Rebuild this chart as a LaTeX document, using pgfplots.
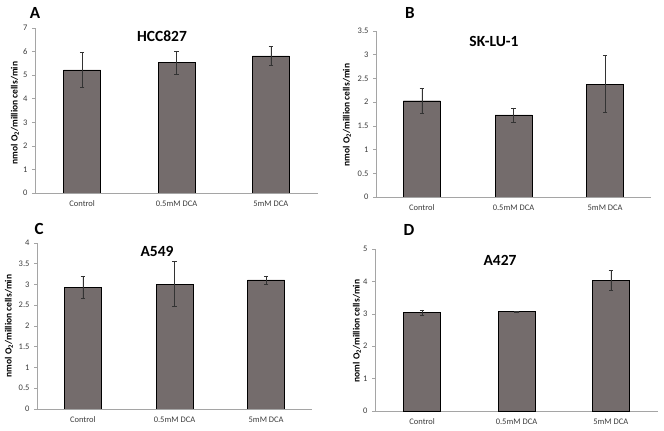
\documentclass[border=0pt]{standalone}
\usepackage{fontspec}
\setmainfont{Carlito}
\usepackage{pgfplots}
\pgfplotsset{compat=1.18}
\definecolor{barc}{RGB}{116,108,108}
\definecolor{axc}{RGB}{165,165,165}
\definecolor{txt}{RGB}{60,60,60}
\pgfplotsset{panel/.style={
  scale only axis,
  axis lines*=left,
  axis line style={axc, line width=0.6pt},
  xmin=-0.5, xmax=2.5, ymin=0,
  xtick={0,1,2},
  xticklabels={Control,0.5mM DCA,5mM DCA},
  major x tick style={draw=none},
  extra x ticks={0.5,1.5,2.5},
  extra x tick labels={},
  extra x tick style={major tick length=3pt, tick align=outside, tick style={axc}},
  tick align=outside,
  major tick length=3pt,
  tick style={axc, line width=0.6pt},
  ticklabel style={font=\fontsize{8.5}{10}\selectfont, text=txt},
  /pgf/number format/assume math mode=true,
  y tick label style={xshift=-1pt},
  x tick label style={yshift=-1pt},
  ybar, bar width=37pt,
  bar shift=0pt,
  cycle list={{fill=barc, draw=white!80!barc, line width=0.4pt}},
  error bars/y dir=both, error bars/y explicit,
  error bars/error bar style={black!80, line width=0.4pt},
  error bars/error mark options={rotate=90, black!80, mark size=2.2pt, line width=0.4pt},
}}
\begin{document}
\begin{tikzpicture}[x=1pt,y=1pt]
\useasboundingbox (0,0) rectangle (664,431);
% Panel A
\begin{axis}[panel, at={(35pt,238pt)}, anchor=south west, width=283pt, height=165pt,
  ymax=7, ytick={0,1,...,7}]
\addplot coordinates {(0,5.22) +- (0,0.74) (1,5.53) +- (0,0.47) (2,5.82) +- (0,0.39)};
\end{axis}
% Panel B
\begin{axis}[panel, at={(376pt,234pt)}, anchor=south west, width=275pt, height=166pt,
  ymax=3.5, ytick={0,0.5,...,3.5}]
\addplot coordinates {(0,2.03) +- (0,0.27) (1,1.73) +- (0,0.15) (2,2.38) +- (0,0.60)};
\end{axis}
% Panel C
\begin{axis}[panel, at={(37pt,22pt)}, anchor=south west, width=275pt, height=166pt,
  ymax=4, ytick={0,0.5,...,4}]
\addplot coordinates {(0,2.93) +- (0,0.27) (1,3.01) +- (0,0.54) (2,3.11) +- (0,0.10)};
\end{axis}
% Panel D
\begin{axis}[panel, at={(375pt,20pt)}, anchor=south west, width=283pt, height=162pt,
  ymax=5, ytick={0,1,...,5}]
\addplot coordinates {(0,3.04) +- (0,0.08) (1,3.07) +- (0,0.01) (2,4.04) +- (0,0.31)};
\end{axis}
% Titles
\node[font=\bfseries\fontsize{15.5}{17}\selectfont] at (162,395) {HCC827};
\node[font=\bfseries\fontsize{15.5}{17}\selectfont] at (494,390) {SK-LU-1};
\node[font=\bfseries\fontsize{15.5}{17}\selectfont] at (157,180) {A549};
\node[font=\bfseries\fontsize{15.5}{17}\selectfont] at (500,171) {A427};
% Panel letters
\node[font=\bfseries\fontsize{17}{19}\selectfont] at (35,418) {A};
\node[font=\bfseries\fontsize{17}{19}\selectfont] at (410,418) {B};
\node[font=\bfseries\fontsize{17}{19}\selectfont] at (39,202) {C};
\node[font=\bfseries\fontsize{17}{19}\selectfont] at (409,201) {D};
% Y labels
\node[rotate=90, font=\bfseries\fontsize{9.5}{11}\selectfont] at (15,318) {nmol O\textsubscript{2}/million cells/min};
\node[rotate=90, font=\bfseries\fontsize{9.5}{11}\selectfont] at (347,316) {nmol O\textsubscript{2}/million cells/min};
\node[rotate=90, font=\bfseries\fontsize{9.5}{11}\selectfont] at (9,105) {nmol O\textsubscript{2}/million cells/min};
\node[rotate=90, font=\bfseries\fontsize{9.5}{11}\selectfont] at (357,100) {noml O\textsubscript{2}/million cells/min};
\end{tikzpicture}
\end{document}
